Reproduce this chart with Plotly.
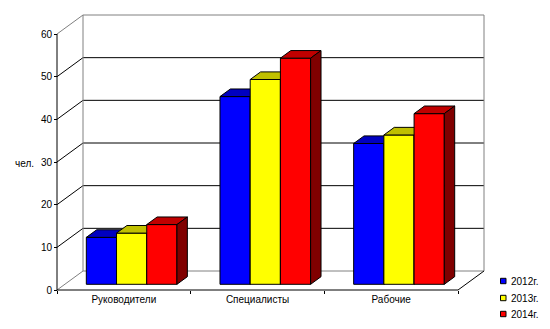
import plotly.graph_objects as go

# ---- data ----
categories = ["Руководители", "Специалисты", "Рабочие"]
years = ["2012г.", "2013г.", "2014г."]
staff_2012 = [11, 44, 33]
staff_2013 = [12, 48, 35]
staff_2014 = [14, 53, 40]
y_ticks = [0, 10, 20, 30, 40, 50, 60]

series = [staff_2012, staff_2013, staff_2014]
front_colors = ["#0000FF", "#FFFF00", "#FF0000"]
top_colors = ["#0000C0", "#C0C000", "#C00000"]
side_colors = ["#000080", "#808000", "#800000"]

# ---- page / projection settings ----
W, H = 550, 329
L, R, T, B = 50, 50, 10, 30
PLOT_W, PLOT_H = W - L - R, H - T - B
PX_X = 133.67          # pixels per category slot
PX_Y = 4.2667          # pixels per unit of value
ORIGIN_X, ORIGIN_Y = 57, 290
DX = 26 / PX_X         # depth offset of the back wall, category units
DY = 19 / PX_Y         # depth offset of the back wall, value units
BAR_W = 0.226          # bar width, category units
F0, F1 = 0.3, 0.7      # bar front / back depth fractions
YMAX = y_ticks[-1]
NCAT = len(categories)
GRAY = "#808080"

x_range = [(L - ORIGIN_X) / PX_X, (W - R - ORIGIN_X) / PX_X]
y_range = [(ORIGIN_Y - (H - B)) / PX_Y, (ORIGIN_Y - T) / PX_Y]


def px_x(px):
    return (px - L) / PLOT_W


def px_y(py):
    return ((H - B) - py) / PLOT_H


fig = go.Figure()


def seg(xs, ys, color):
    fig.add_trace(go.Scatter(x=xs, y=ys, mode="lines",
                             line=dict(color=color, width=1),
                             hoverinfo="skip", showlegend=False))


def poly(xs, ys, color):
    fig.add_trace(go.Scatter(x=xs + [xs[0]], y=ys + [ys[0]], mode="lines",
                             fill="toself", fillcolor=color,
                             line=dict(color="black", width=1),
                             hoverinfo="skip", showlegend=False))


# back wall gridlines and left wall diagonals
for v in y_ticks:
    c = GRAY if v in (0, YMAX) else "black"
    seg([DX, NCAT + DX], [v + DY, v + DY], c)
    seg([0, DX], [v, v + DY], c)
# back wall vertical edges
seg([DX, DX], [DY, YMAX + DY], GRAY)
seg([NCAT + DX, NCAT + DX], [DY, YMAX + DY], GRAY)
# floor right edge, front floor line, value axis line
seg([NCAT, NCAT + DX], [0, DY], "black")
seg([0, NCAT], [0, 0], "black")
seg([0, 0], [0, YMAX], "black")

# 3-D bars, drawn left to right so each bar covers its neighbour's side
for ci in range(NCAT):
    left0 = ci + 0.5 - 1.5 * BAR_W
    for si, vals in enumerate(series):
        v = vals[ci]
        xl = left0 + si * BAR_W
        xr = xl + BAR_W
        a0, a1 = F0 * DX, F1 * DX
        b0, b1 = F0 * DY, F1 * DY
        poly([xl + a0, xr + a0, xr + a0, xl + a0],
             [b0, b0, v + b0, v + b0], front_colors[si])
        poly([xl + a0, xr + a0, xr + a1, xl + a1],
             [v + b0, v + b0, v + b1, v + b1], top_colors[si])
        poly([xr + a0, xr + a1, xr + a1, xr + a0],
             [b0, b1, v + b1, v + b0], side_colors[si])

font = dict(family="Arial, Liberation Sans, sans-serif", size=10, color="black")

# legend: colour squares with labels
shapes = []
annotations = []
legend_rows = [281, 298, 314]
for si, name in enumerate(years):
    cy = legend_rows[si]
    shapes.append(dict(type="rect", xref="paper", yref="paper",
                       x0=px_x(500.5), x1=px_x(506), y0=px_y(cy - 2.7), y1=px_y(cy + 2.7),
                       fillcolor=front_colors[si], line=dict(color="black", width=1)))
    annotations.append(dict(xref="paper", yref="paper", x=px_x(508.5), y=px_y(cy),
                            text=name, showarrow=False, xanchor="left", yanchor="middle",
                            font=font))

# value axis title
annotations.append(dict(xref="paper", yref="paper", x=px_x(36), y=px_y(163),
                        text="чел.", showarrow=False, xanchor="right", yanchor="middle",
                        font=font))

fig.update_layout(
    width=W, height=H,
    margin=dict(l=L, r=R, t=T, b=B, pad=0),
    paper_bgcolor="white", plot_bgcolor="white",
    font=font,
    showlegend=False,
    shapes=shapes,
    annotations=annotations,
    xaxis=dict(range=x_range, anchor="free", position=px_y(ORIGIN_Y),
               tickvals=[i + 0.5 for i in range(NCAT)], ticktext=categories,
               ticks="", showgrid=False, zeroline=False, showline=False,
               ticklabelstandoff=2,
               minor=dict(tickmode="array", tickvals=list(range(NCAT + 1)),
                          ticks="outside", ticklen=3, tickcolor="black",
                          tickwidth=1, showgrid=False),
               fixedrange=True),
    yaxis=dict(range=y_range, anchor="free", position=px_x(ORIGIN_X),
               tickvals=y_ticks, ticks="outside", ticklen=3, tickcolor="black",
               tickwidth=1, showgrid=False, zeroline=False, showline=False,
               fixedrange=True),
)

fig.write_html("out.html")
